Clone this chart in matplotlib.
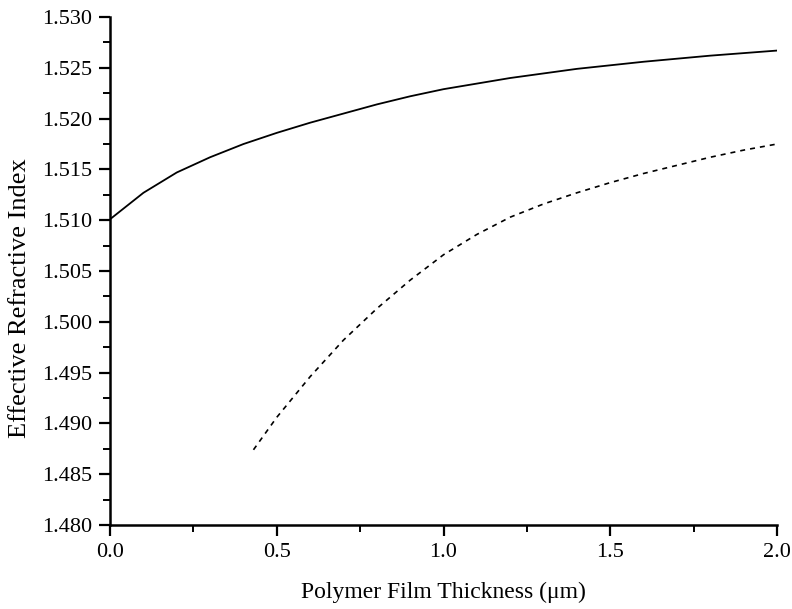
import matplotlib
matplotlib.use("Agg")
import matplotlib.pyplot as plt
from matplotlib.ticker import MultipleLocator, FormatStrFormatter

# Data
solid_x = [0.0, 0.1, 0.2, 0.3, 0.4, 0.5, 0.6, 0.7, 0.8, 0.9, 1.0, 1.2, 1.4, 1.6, 1.8, 2.0]
solid_y = [1.5101, 1.5127, 1.5147, 1.5162, 1.5175, 1.5186, 1.5196, 1.5205, 1.5214,
           1.5222, 1.5229, 1.5240, 1.5249, 1.5256, 1.5262, 1.5267]

dashed_x = [0.43, 0.5, 0.6, 0.7, 0.8, 0.9, 1.0, 1.1, 1.2, 1.3, 1.4, 1.5, 1.6, 1.7, 1.8, 1.9, 2.0]
dashed_y = [1.4874, 1.4906, 1.4946, 1.4982, 1.5013, 1.5041, 1.5066, 1.5086, 1.5103,
            1.5116, 1.5127, 1.5137, 1.5146, 1.5154, 1.5162, 1.5169, 1.5175]

x_label = "Polymer Film Thickness (\u03bcm)"
y_label = "Effective Refractive Index"

plt.rcParams['font.family'] = ['Liberation Serif', 'DejaVu Serif']

fig = plt.figure(figsize=(7.92, 6.09), dpi=100)
ax = fig.add_axes([0.139, 0.138, 0.842, 0.834])

ax.plot(solid_x, solid_y, color='black', lw=1.3, solid_joinstyle='round')
ax.plot(dashed_x, dashed_y, color='black', lw=1.2, linestyle=(0, (3, 3)))

ax.set_xlim(0.0, 2.0)
ax.set_ylim(1.480, 1.530)
ax.xaxis.set_major_locator(MultipleLocator(0.5))
ax.xaxis.set_minor_locator(MultipleLocator(0.25))
ax.yaxis.set_major_locator(MultipleLocator(0.005))
ax.yaxis.set_minor_locator(MultipleLocator(0.0025))
ax.xaxis.set_major_formatter(FormatStrFormatter('%.1f'))
ax.yaxis.set_major_formatter(FormatStrFormatter('%.3f'))

for s in ['top', 'right']:
    ax.spines[s].set_visible(False)
for s in ['left', 'bottom']:
    ax.spines[s].set_linewidth(1.8)

ax.tick_params(which='major', direction='out', length=8, width=1.6, labelsize=16, pad=5)
ax.tick_params(which='minor', direction='out', length=5, width=1.4)

ax.set_xlabel(x_label, fontsize=17, labelpad=14)
ax.set_ylabel(y_label, fontsize=19)
ax.yaxis.set_label_coords(-0.118, 0.447)

fig.savefig("out.png", dpi=100, facecolor='white')
